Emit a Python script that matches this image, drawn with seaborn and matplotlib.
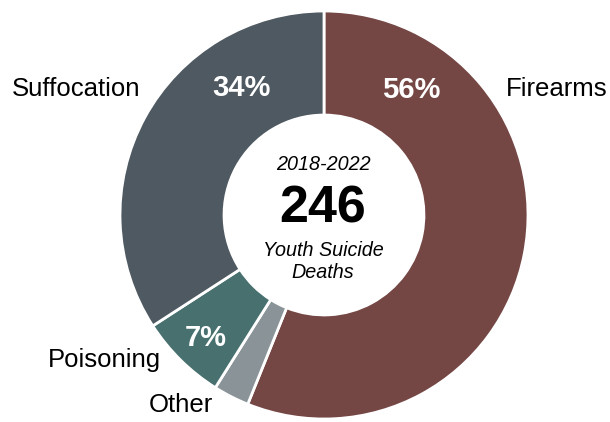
import matplotlib
matplotlib.use("Agg")
import matplotlib.pyplot as plt
import seaborn as sns

categories = ["Firearms", "Other", "Poisoning", "Suffocation"]
counts = [138, 7, 17, 84]
pct_labels = ["56%", "", "7%", "34%"]
colors = ["#744745", "#8a9398", "#47706f", "#4f5961"]

sns.set_theme(style="white")
plt.rcParams['font.family'] = ['Liberation Sans', 'DejaVu Sans']

fig = plt.figure(figsize=(6.10, 4.22), dpi=100)
cx, cy, R = 324, 215, 204
W, H = 610, 422
ax = fig.add_axes([(cx - R) / W, (H - cy - R) / H, 2 * R / W, 2 * R / H])

wedges, _ = ax.pie(counts, colors=colors, startangle=90, counterclock=False,
                   radius=1.0, wedgeprops=dict(width=0.51, edgecolor="white", linewidth=2))
ax.set_xlim(-1, 1)
ax.set_ylim(-1, 1)
ax.axis("off")

def px(x, y):
    return (x - cx) / R, (cy - y) / R

# category labels
label_pos = {"Firearms": (557, 89), "Suffocation": (76, 89), "Poisoning": (104, 360), "Other": (181, 405)}
for c in categories:
    x, y = px(*label_pos[c])
    ax.text(x, y, c, ha="center", va="center", fontsize=18.5, color="black")

pct_pos = [(411, 90), None, (206, 338), (241, 88)]
for p, pos in zip(pct_labels, pct_pos):
    if p:
        x, y = px(*pos)
        ax.text(x, y, p, ha="center", va="center", fontsize=21, fontweight="bold", color="white")

x, y = px(323, 164)
ax.text(x, y, "2018-2022", ha="center", va="center", fontsize=14.2, style="italic", color="black")
x, y = px(323, 209)
ax.text(x, y, "246", ha="center", va="center", fontsize=37.5, fontweight="bold", color="black")
x, y = px(323, 250)
ax.text(x, y, "Youth Suicide", ha="center", va="center", fontsize=14.2, style="italic", color="black")
x, y = px(323, 272)
ax.text(x, y, "Deaths", ha="center", va="center", fontsize=14.2, style="italic", color="black")

fig.savefig("out.png", dpi=100, facecolor="white")
